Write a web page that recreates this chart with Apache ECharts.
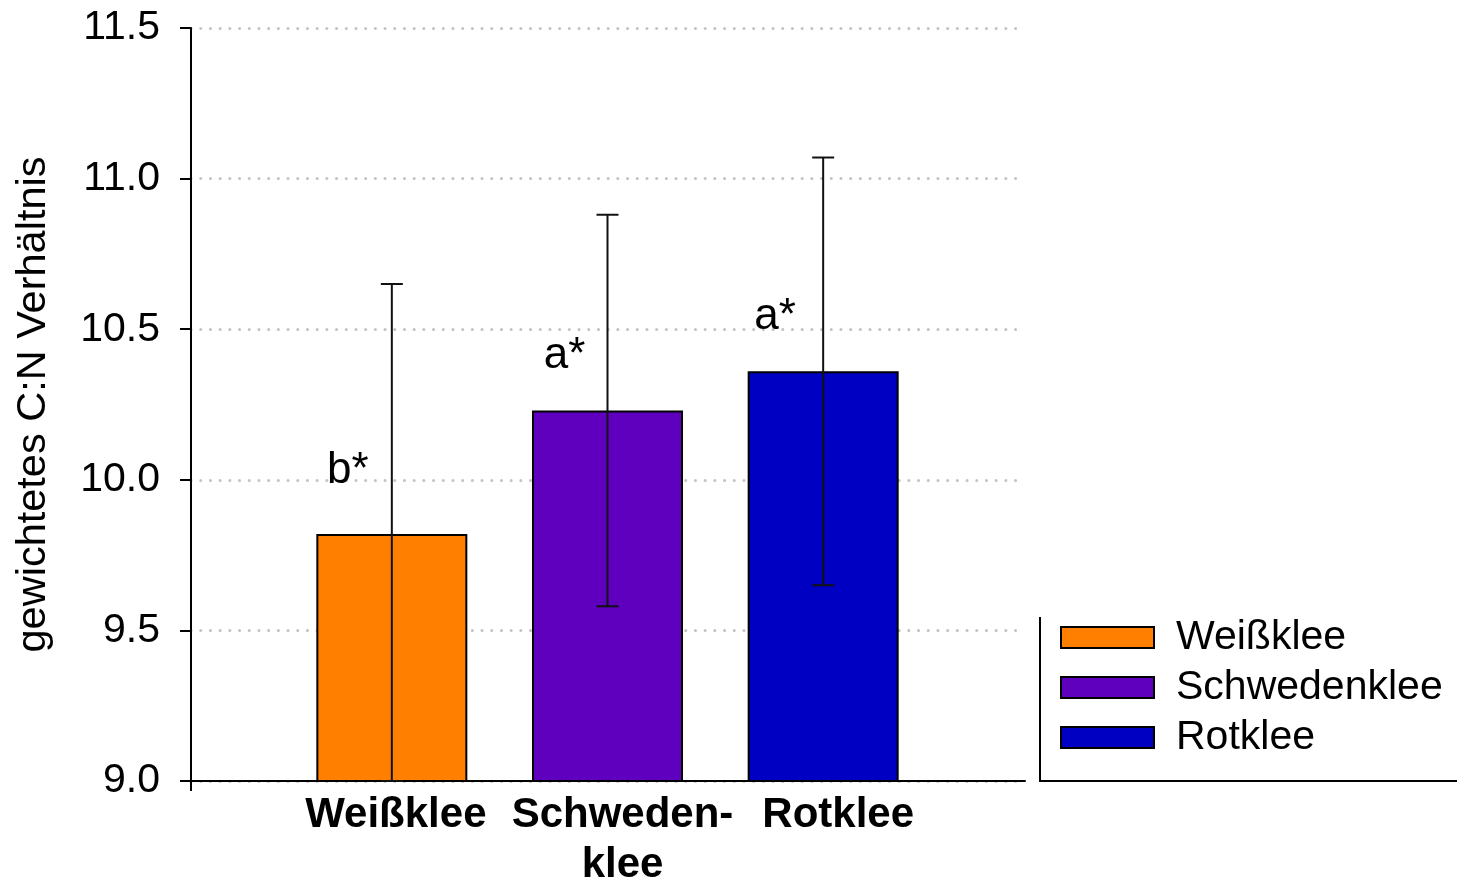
<!DOCTYPE html>
<html>
<head>
<meta charset="utf-8">
<script src="https://cdn.jsdelivr.net/npm/echarts@6/dist/echarts.min.js"></script>
<style>
  html, body { margin: 0; padding: 0; background: #fff; }
  #chart { width: 1457px; height: 881px; }
</style>
</head>
<body>
<div id="chart"></div>
<script>
// Clover species and their weighted C:N ratios
const categories = ['Weißklee', 'Schweden-\nklee', 'Rotklee'];
const legendNames = ['Weißklee', 'Schwedenklee', 'Rotklee'];
const means = [9.82, 10.23, 10.36];
const errors = [0.83, 0.65, 0.71];
const letters = ['b*', 'a*', 'a*'];
const colors = ['#ff8000', '#5e00be', '#0000c2'];
const yTicks = { min: 9.0, max: 11.5, step: 0.5 };
const yTitle = 'gewichtetes C:N Verhältnis';

const FONT = '"Liberation Sans", Arial, sans-serif';
// placement of the significance letters relative to each bar top
const letterOffsets = [[-44, -36], [-43, -28], [-48, -28]];

const chart = echarts.init(document.getElementById('chart'), null, { renderer: 'canvas' });

const barSeries = legendNames.map((name, i) => ({
  name: name,
  type: 'bar',
  xAxisIndex: 1,
  yAxisIndex: 1,
  barWidth: 151,
  barGap: '-100%',
  data: categories.map((c, j) => (j === i ? means[j] : '-')),
  itemStyle: { color: colors[i], borderColor: '#000', borderWidth: 2 },
  label: {
    show: true,
    position: 'top',
    offset: letterOffsets[i],
    formatter: () => letters[i],
    fontFamily: FONT,
    fontSize: 44,
    color: '#000'
  },
  z: 2
}));

const errorSeries = {
  type: 'custom',
  xAxisIndex: 1,
  yAxisIndex: 1,
  data: means.map((m, i) => [i, Math.max(m - errors[i], yTicks.min), m + errors[i]]),
  renderItem: function (params, api) {
    const x = api.value(0);
    const lo = api.coord([x, api.value(1)]);
    const hi = api.coord([x, api.value(2)]);
    const cap = 11;
    const style = { stroke: '#111', lineWidth: 2 };
    return {
      type: 'group',
      children: [
        { type: 'line', shape: { x1: hi[0], y1: hi[1], x2: lo[0], y2: lo[1] }, style: style },
        { type: 'line', shape: { x1: hi[0] - cap, y1: hi[1], x2: hi[0] + cap, y2: hi[1] }, style: style },
        { type: 'line', shape: { x1: lo[0] - cap, y1: lo[1], x2: lo[0] + cap, y2: lo[1] }, style: style }
      ]
    };
  },
  z: 5,
  silent: true
};

// category label styles (per-column nudge to the right)
const catRich = {
  c0: { fontFamily: FONT, fontSize: 42, fontWeight: 'bold', color: '#000', lineHeight: 50, padding: [0, 0, 0, 8] },
  c1: { fontFamily: FONT, fontSize: 42, fontWeight: 'bold', color: '#000', lineHeight: 50, padding: [0, 0, 0, 30] },
  c2: { fontFamily: FONT, fontSize: 42, fontWeight: 'bold', color: '#000', lineHeight: 50, padding: [0, 0, 0, 30] }
};

const option = {
  backgroundColor: '#fff',
  animation: false,
  textStyle: { fontFamily: FONT },
  grid: [
    { left: 191, right: 432, top: 28, bottom: 100, containLabel: false, outerBoundsMode: 'none' },
    { left: 284, right: 526, top: 28, bottom: 100, containLabel: false, outerBoundsMode: 'none' }
  ],
  legend: {
    orient: 'vertical',
    left: 1060,
    top: 617,
    padding: 0,
    itemWidth: 93,
    itemHeight: 21,
    itemGap: 9,
    icon: 'rect',
    data: legendNames,
    textStyle: { fontFamily: FONT, fontSize: 41, color: '#000', padding: [0, 0, 0, 17] }
  },
  xAxis: [
    {
      type: 'value',
      gridIndex: 0,
      min: 0,
      max: 1,
      interval: 1,
      axisLine: { show: true, lineStyle: { color: '#000', width: 2 } },
      axisTick: { show: true, length: 10, lineStyle: { color: '#000', width: 2 }, customValues: [0] },
      axisLabel: { show: false },
      splitLine: { show: false }
    },
    {
      type: 'category',
      gridIndex: 1,
      data: categories,
      axisLine: { show: false },
      axisTick: { show: false },
      axisLabel: {
        interval: 0,
        margin: 9,
        lineHeight: 50,
        formatter: function (value, idx) {
          return value.split('\n').map(s => '{c' + idx + '|' + s + '}').join('\n');
        },
        rich: catRich
      }
    }
  ],
  yAxis: [
    {
      type: 'value',
      gridIndex: 0,
      min: yTicks.min,
      max: yTicks.max,
      interval: yTicks.step,
      name: yTitle,
      nameLocation: 'middle',
      nameGap: 136,
      nameTextStyle: { fontFamily: FONT, fontSize: 41.5, color: '#000' },
      axisLine: { show: true, lineStyle: { color: '#000', width: 2 } },
      axisTick: { show: true, length: 11, lineStyle: { color: '#000', width: 2 } },
      axisLabel: {
        margin: 31,
        fontFamily: FONT,
        fontSize: 41,
        color: '#000',
        formatter: v => v.toFixed(1)
      },
      splitLine: {
        show: true,
        lineStyle: { color: '#c4c4c4', width: 3, type: [0.1, 9.6], cap: 'round' }
      }
    },
    {
      type: 'value',
      gridIndex: 1,
      min: yTicks.min,
      max: yTicks.max,
      interval: yTicks.step,
      show: false,
      splitLine: { show: false }
    }
  ],
  graphic: [
    // legend frame: left and bottom edges
    { type: 'line', shape: { x1: 1040, y1: 617, x2: 1040, y2: 782 }, style: { stroke: '#000', lineWidth: 2 } },
    { type: 'line', shape: { x1: 1039, y1: 781, x2: 1457, y2: 781 }, style: { stroke: '#000', lineWidth: 2 } }
  ],
  series: barSeries.concat([errorSeries])
};

chart.setOption(option);
</script>
</body>
</html>
